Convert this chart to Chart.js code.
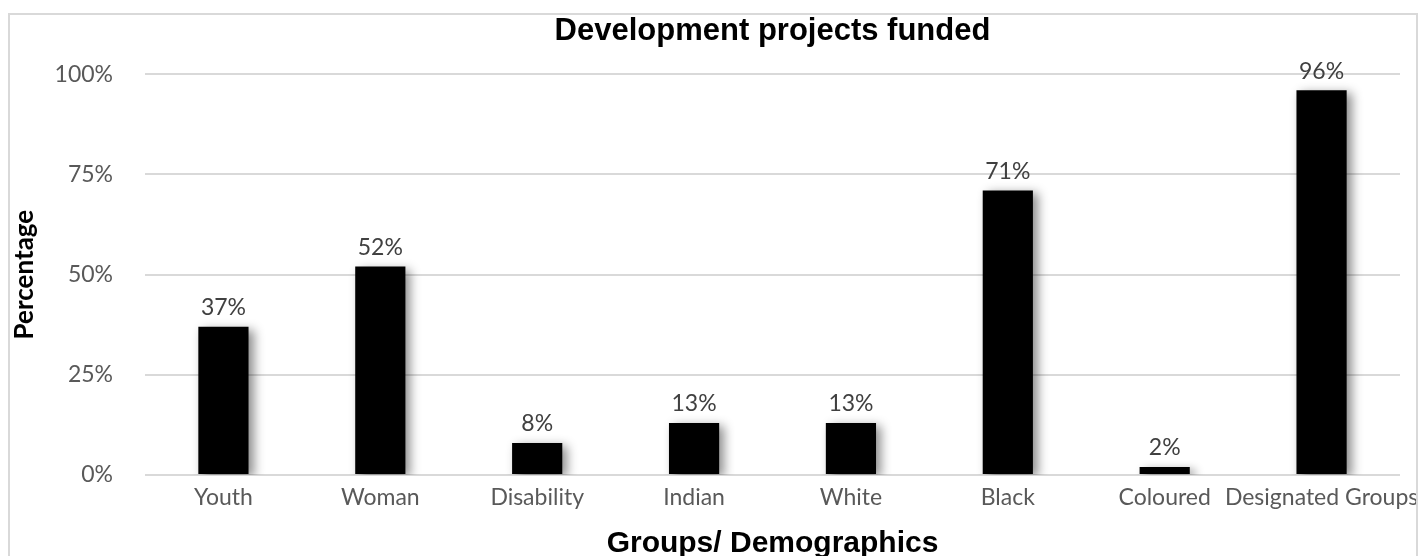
<!DOCTYPE html>
<html>
<head>
<meta charset="utf-8">
<script src="https://cdn.jsdelivr.net/npm/chart.js@4.4.1/dist/chart.umd.min.js"></script>
<style>
  html, body { margin: 0; padding: 0; background: #fff; }
  #wrap { position: relative; width: 1423px; height: 556px; overflow: hidden; }
  #frame { position: absolute; left: 8px; top: 13px; width: 1410px; height: 560px;
           border: 2px solid #d9d9d9; box-sizing: border-box; pointer-events: none; }
  canvas { position: absolute; left: 0; top: 0; }
</style>
</head>
<body>
<div id="wrap">
  <canvas id="c" width="1423" height="556"></canvas>
  <div id="frame"></div>
</div>
<script>
// Share of funded development projects by group
const categories = ['Youth', 'Woman', 'Disability', 'Indian', 'White', 'Black', 'Coloured', 'Designated Groups'];
const percentages = [37, 52, 8, 13, 13, 71, 2, 96];
const yTicks = [0, 25, 50, 75, 100];

const tickFont = { family: 'Lato, "Open Sans", sans-serif', size: 23, lineHeight: 1.0 };
const tickColor = '#595959';
const boldFont = '"Liberation Sans", Arial, sans-serif';

// soft drop shadow under the bars
const barShadow = {
  id: 'barShadow',
  beforeDatasetsDraw(chart) {
    const ctx = chart.ctx;
    ctx.save();
    ctx.shadowColor = 'rgba(0,0,0,0.45)';
    ctx.shadowBlur = 10;
    ctx.shadowOffsetX = 5;
    ctx.shadowOffsetY = 3;
  },
  afterDatasetsDraw(chart) {
    chart.ctx.restore();
  }
};

// value labels above each bar
const valueLabels = {
  id: 'valueLabels',
  afterDatasetsDraw(chart) {
    const ctx = chart.ctx;
    const meta = chart.getDatasetMeta(0);
    ctx.save();
    ctx.font = `${tickFont.size}px ${tickFont.family}`;
    ctx.fillStyle = '#404040';
    ctx.textAlign = 'center';
    ctx.textBaseline = 'middle';
    meta.data.forEach((bar, i) => {
      ctx.fillText(percentages[i] + '%', bar.x, bar.y - 19);
    });
    ctx.restore();
  }
};

new Chart(document.getElementById('c'), {
  type: 'bar',
  data: {
    labels: categories,
    datasets: [{
      data: percentages,
      backgroundColor: '#000000',
      borderWidth: 0,
      categoryPercentage: 1.0,
      barPercentage: 0.32
    }]
  },
  options: {
    responsive: false,
    animation: false,
    devicePixelRatio: 1,
    layout: { padding: { left: 7, right: 23, top: 10, bottom: 0 } },
    plugins: {
      legend: { display: false },
      tooltip: { enabled: false },
      title: {
        display: true,
        fullSize: false,
        text: 'Development projects funded',
        color: '#000000',
        font: { family: boldFont, size: 31, weight: 'bold', lineHeight: 1.2 },
        padding: { top: 3, bottom: 24 }
      }
    },
    scales: {
      x: {
        grid: { display: false, drawTicks: false },
        border: { display: false },
        afterFit(scale) { scale.paddingLeft = 0; scale.paddingRight = 0; },
        ticks: {
          color: tickColor,
          font: tickFont,
          autoSkip: false,
          maxRotation: 0,
          minRotation: 0,
          padding: 11
        },
        title: {
          display: true,
          text: 'Groups/ Demographics',
          color: '#000000',
          font: { family: boldFont, size: 30, weight: 'bold', lineHeight: 0.8 },
          padding: { top: 12, bottom: 0 }
        }
      },
      y: {
        min: 0,
        max: 100,
        afterBuildTicks(scale) {
          scale.ticks = yTicks.map(v => ({ value: v }));
        },
        afterFit(scale) { scale.width = 138; },
        grid: { color: '#d9d9d9', lineWidth: 2, drawTicks: false },
        border: { display: false },
        ticks: {
          color: tickColor,
          font: tickFont,
          padding: 32,
          callback: v => v + '%'
        },
        title: {
          display: true,
          text: 'Percentage',
          color: '#000000',
          font: { family: 'Lato, "Open Sans", sans-serif', size: 26, weight: 'bold', lineHeight: 1.2 },
          padding: { top: 2, bottom: 0 }
        }
      }
    }
  },
  plugins: [barShadow, valueLabels]
});
</script>
</body>
</html>
